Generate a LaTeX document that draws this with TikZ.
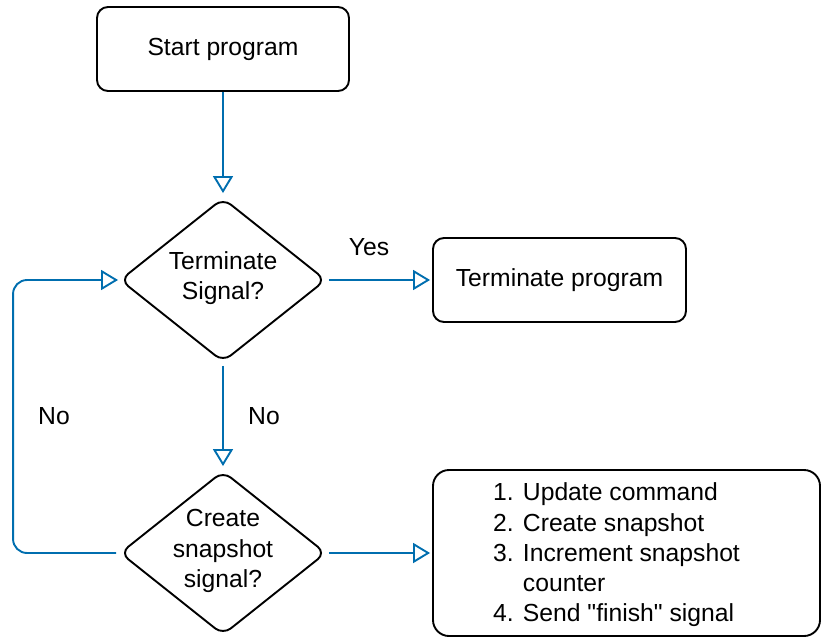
\documentclass[tikz,border=0pt]{standalone}
\usepackage{fontspec}
% plain family without TeX ligature mapping, so the straight quote stays straight
\newfontfamily\plainsans{Liberation Sans}
\usetikzlibrary{shapes.geometric,arrows.meta}
\definecolor{flowblue}{HTML}{006EAF}
\definecolor{inkblack}{HTML}{000000}
\tikzset{
  txt/.style={font=\plainsans\fontsize{24.7}{30.2}\selectfont, text=inkblack, inner sep=0pt},
  procbox/.style={draw=inkblack, line width=1.9pt, rectangle, rounded corners=11pt, inner sep=0pt},
  decision/.style={draw=inkblack, line width=1.9pt, diamond, rounded corners=10pt, inner sep=0pt,
    minimum width=206pt, minimum height=164pt},
  flow/.style={draw=flowblue, line width=1.9pt, -{Triangle[open, length=17pt, width=20pt]}},
  lbl/.style={txt},
}
\begin{document}
\begin{tikzpicture}[x=1pt, y=-1pt]
  \useasboundingbox (0,0) rectangle (821,637);

  % process boxes
  \node[procbox, minimum width=252pt, minimum height=84pt] (start) at (223,49) {};
  \node[txt] (starttxt) at (start.center) {Start program};

  \node[procbox, minimum width=253pt, minimum height=84pt] (term) at (559.5,280) {};
  \node[txt] (termtxt) at (term.center) {Terminate program};

  \node[procbox, rounded corners=16pt, minimum width=387pt, minimum height=166pt] (steps) at (626.5,553) {};
  \node[txt, align=left, anchor=west] (stepstxt) at (493,555)
    {1. Update command\\2. Create snapshot\\3. Increment snapshot\\\hphantom{3. }counter\\4. Send "finish" signal};

  % decisions
  \node[decision] (d1) at (223,280) {};
  \node[txt, align=center] (d1txt) at (223,278) {Terminate\\Signal?};

  \node[decision] (d2) at (223,553) {};
  \node[txt, align=center] (d2txt) at (223,551) {Create\\snapshot\\signal?};

  % connectors
  \draw[flow, shorten >=4pt] (start.south) -- (d1.north);
  \draw[flow, shorten <=2pt, shorten >=2pt] (d1.east) -- (term.west);
  \draw[flow, shorten <=3pt, shorten >=4pt] (d1.south) -- (d2.north);
  \draw[flow, shorten <=2pt, shorten >=2pt] (d2.east) -- (steps.west);
  \draw[flow, rounded corners=14pt, shorten <=3pt, shorten >=1pt] (d2.west) -- ++(-106,0) |- (d1.west);

  % branch labels
  \node[lbl] (yes) at (369,247) {Yes};
  \node[lbl] (no1) at (264,416) {No};
  \node[lbl] (no2) at (54,416) {No};
\end{tikzpicture}
\end{document}
